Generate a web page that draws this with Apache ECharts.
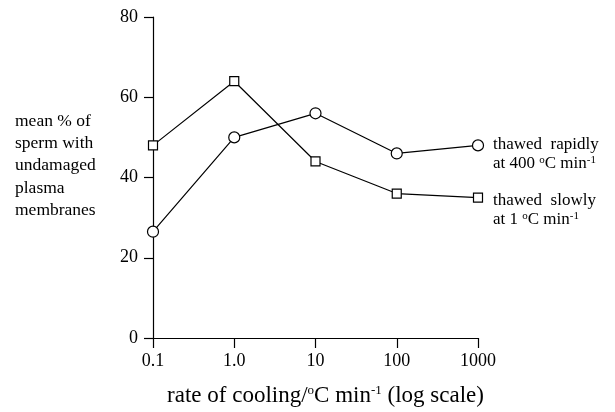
<!DOCTYPE html>
<html>
<head>
<meta charset="utf-8">
<script src="https://cdn.jsdelivr.net/npm/echarts@6/dist/echarts.min.js"></script>
<style>
  html, body { margin: 0; padding: 0; background: #fff; }
  #chart { width: 615px; height: 412px; }
</style>
</head>
<body>
<div id="chart"></div>
<script>
// cooling rates (deg C per min), log scale
const coolingRates = [0.1, 1, 10, 100, 1000]
const xTickLabels = { '0.1': '0.1', '1': '1.0', '10': '10', '100': '100', '1000': '1000' }
// mean % of sperm with undamaged plasma membranes
const thawedRapidly = [26.5, 50, 56, 46, 48]
const thawedSlowly = [48, 64, 44, 36, 35]

const FONT = '"Liberation Serif", "DejaVu Serif", serif'
const sup = { fontSize: 11, fontFamily: FONT, color: '#000', padding: [0, 0, 7, 0] }

const chart = echarts.init(document.getElementById('chart'))

function pairs (ys) {
  return coolingRates.map((x, i) => [x, ys[i]])
}

chart.setOption({
  backgroundColor: '#fff',
  animation: false,
  grid: { left: 153, right: 137, top: 17, bottom: 72 },
  xAxis: {
    type: 'log',
    logBase: 10,
    min: 0.1,
    max: 1000,
    splitLine: { show: false },
    axisLine: { lineStyle: { color: '#000', width: 1.2 } },
    axisTick: { inside: false, length: 10, lineStyle: { color: '#000', width: 1.2 } },
    axisLabel: {
      fontSize: 18, fontFamily: FONT, color: '#000', margin: 14,
      formatter: v => xTickLabels[String(Number(v.toPrecision(6)))] || ''
    },
    name: 'rate of cooling/{s|o}C min{s|-1} (log scale)',
    nameLocation: 'middle',
    nameGap: 46,
    nameTextStyle: {
      fontSize: 23, fontFamily: FONT, color: '#000', padding: [0, 0, 0, 20],
      rich: { s: { fontSize: 13, fontFamily: FONT, color: '#000', padding: [0, 0, 10, 0] } }
    }
  },
  yAxis: {
    type: 'value',
    min: 0,
    max: 80,
    interval: 20,
    splitLine: { show: false },
    axisLine: { show: true, lineStyle: { color: '#000', width: 1.2 } },
    axisTick: { show: true, inside: false, length: 9, lineStyle: { color: '#000', width: 1.2 } },
    axisLabel: { fontSize: 18, fontFamily: FONT, color: '#000', margin: 15 }
  },
  graphic: [
    {
      type: 'text', left: 15, top: 110,
      style: {
        text: 'mean % of\nsperm with\nundamaged\nplasma\nmembranes',
        font: '17.5px ' + FONT, fill: '#000', lineHeight: 22.3
      }
    },
    {
      type: 'text', left: 493, top: 135,
      style: {
        text: 'thawed\u2002rapidly\nat 400 {s|o}C min{s|-1}',
        fontSize: 17, fontFamily: FONT, fill: '#000', lineHeight: 19,
        rich: { s: sup }
      }
    },
    {
      type: 'text', left: 493, top: 191,
      style: {
        text: 'thawed\u2002slowly\nat 1 {s|o}C min{s|-1}',
        fontSize: 17, fontFamily: FONT, fill: '#000', lineHeight: 19,
        rich: { s: sup }
      }
    }
  ],
  series: [
    {
      name: 'thawed rapidly',
      type: 'line',
      data: pairs(thawedRapidly),
      symbol: 'circle',
      symbolSize: 11,
      lineStyle: { color: '#000', width: 1.2 },
      itemStyle: { color: '#fff', borderColor: '#000', borderWidth: 1.2 }
    },
    {
      name: 'thawed slowly',
      type: 'line',
      data: pairs(thawedSlowly),
      symbol: 'rect',
      symbolSize: 9,
      lineStyle: { color: '#000', width: 1.2 },
      itemStyle: { color: '#fff', borderColor: '#000', borderWidth: 1.2 }
    }
  ]
})
</script>
</body>
</html>
